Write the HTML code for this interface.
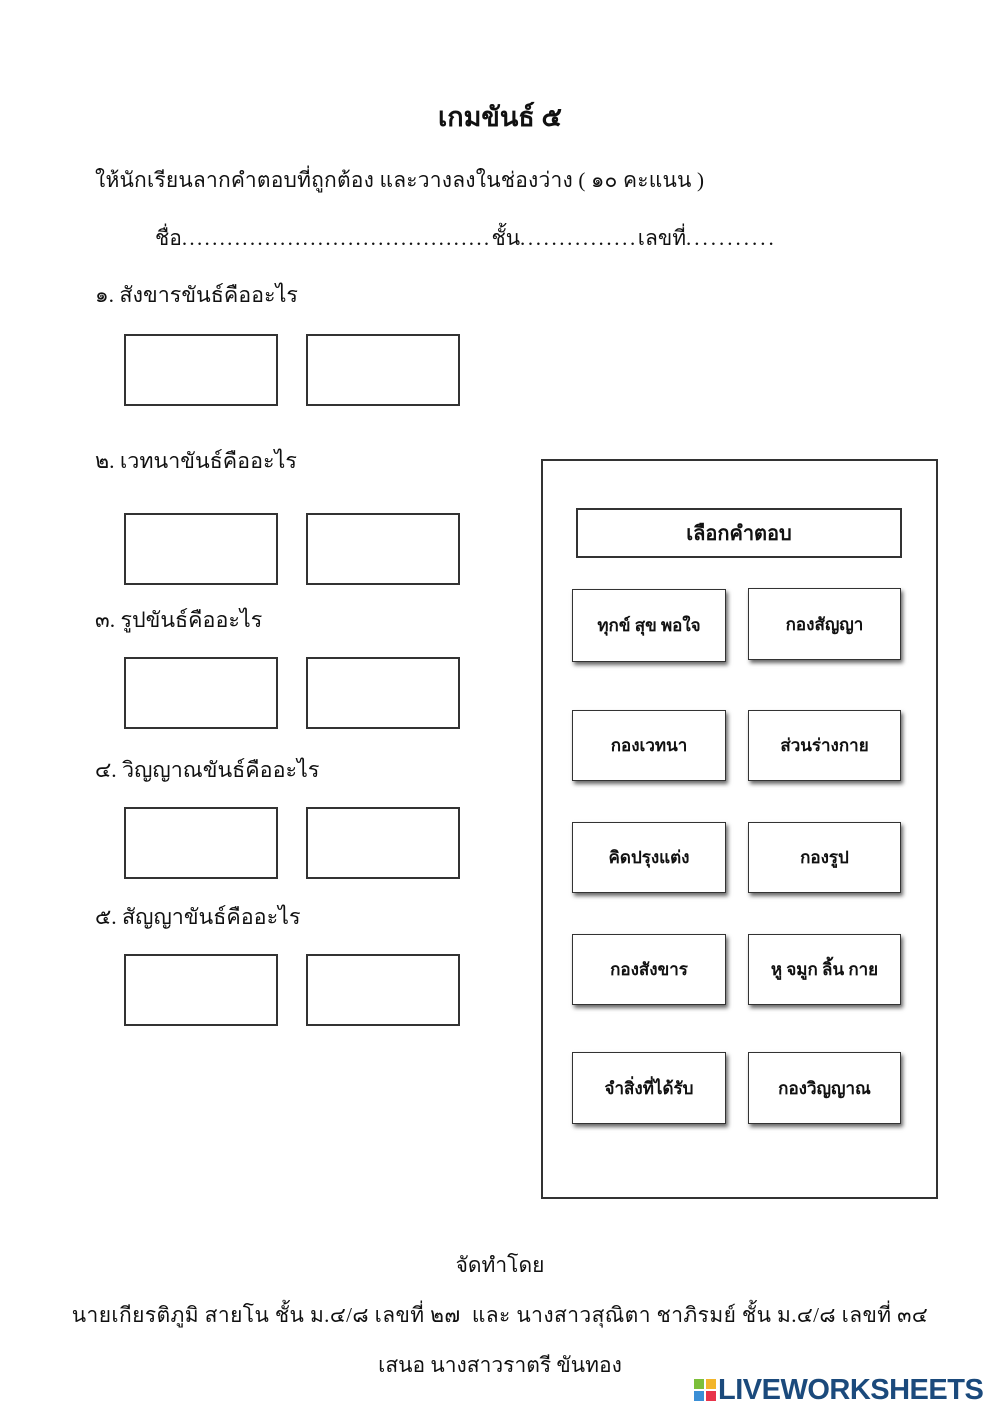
<!DOCTYPE html>
<html><head><meta charset="utf-8">
<style>
body{margin:0;width:1000px;height:1414px;background:#fff;position:relative;overflow:hidden;font-family:"Liberation Serif","DejaVu Sans","Noto Sans CJK SC",serif;color:#111}
.t{position:absolute;white-space:nowrap;font-size:21px;line-height:1}
.b{position:absolute;border:2px solid #333;box-sizing:border-box;background:#fff}
.c{position:absolute;border:1.5px solid #333;box-sizing:border-box;background:#fff;box-shadow:2px 3px 4px rgba(0,0,0,.6);display:flex;align-items:center;justify-content:center;font-weight:bold;font-size:17px}
</style></head><body>
<div class="t" style="left:0;width:1000px;text-align:center;top:104px;font-size:27px;font-weight:bold">เกมขันธ์ ๕</div>
<div class="t" style="left:95px;top:170px;letter-spacing:0.2px">ให้นักเรียนลากคำตอบที่ถูกต้อง และวางลงในช่องว่าง ( ๑๐ คะแนน )</div>
<div class="t" style="left:155px;top:228px">ชื่อ<span style="letter-spacing:2.3px">.........................................</span>ชั้น<span style="letter-spacing:2.6px">...............</span>เลขที่<span style="letter-spacing:3px">...........</span></div>
<div class="t" style="left:95px;top:285px;font-size:21.5px">๑. สังขารขันธ์คืออะไร</div>
<div class="t" style="left:95px;top:451px;font-size:21.5px">๒. เวทนาขันธ์คืออะไร</div>
<div class="t" style="left:95px;top:610px;font-size:21.5px">๓. รูปขันธ์คืออะไร</div>
<div class="t" style="left:95px;top:760px;font-size:21.5px">๔. วิญญาณขันธ์คืออะไร</div>
<div class="t" style="left:95px;top:907px;font-size:21.5px">๕. สัญญาขันธ์คืออะไร</div>

<div class="b" style="left:124px;top:334px;width:154px;height:72px"></div>
<div class="b" style="left:306px;top:334px;width:154px;height:72px"></div>
<div class="b" style="left:124px;top:513px;width:154px;height:72px"></div>
<div class="b" style="left:306px;top:513px;width:154px;height:72px"></div>
<div class="b" style="left:124px;top:657px;width:154px;height:72px"></div>
<div class="b" style="left:306px;top:657px;width:154px;height:72px"></div>
<div class="b" style="left:124px;top:807px;width:154px;height:72px"></div>
<div class="b" style="left:306px;top:807px;width:154px;height:72px"></div>
<div class="b" style="left:124px;top:954px;width:154px;height:72px"></div>
<div class="b" style="left:306px;top:954px;width:154px;height:72px"></div>

<div class="b" style="left:541px;top:459px;width:397px;height:740px"></div>
<div class="b" style="left:576px;top:508px;width:326px;height:50px;display:flex;align-items:center;justify-content:center;font-weight:bold;font-size:20px">เลือกคำตอบ</div>

<div class="c" style="left:572px;top:589px;width:154px;height:73px">ทุกข์ สุข พอใจ</div>
<div class="c" style="left:748px;top:588px;width:153px;height:72px">กองสัญญา</div>
<div class="c" style="left:572px;top:710px;width:154px;height:71px">กองเวทนา</div>
<div class="c" style="left:748px;top:710px;width:153px;height:71px">ส่วนร่างกาย</div>
<div class="c" style="left:572px;top:822px;width:154px;height:71px">คิดปรุงแต่ง</div>
<div class="c" style="left:748px;top:822px;width:153px;height:71px">กองรูป</div>
<div class="c" style="left:572px;top:934px;width:154px;height:71px">กองสังขาร</div>
<div class="c" style="left:748px;top:934px;width:153px;height:71px">หู จมูก ลิ้น กาย</div>
<div class="c" style="left:572px;top:1052px;width:154px;height:72px">จำสิ่งที่ได้รับ</div>
<div class="c" style="left:748px;top:1052px;width:153px;height:72px">กองวิญญาณ</div>

<div class="t" style="left:0;width:1000px;text-align:center;top:1255px">จัดทำโดย</div>
<div class="t" style="left:0;width:1000px;text-align:center;top:1305px;letter-spacing:0.4px">นายเกียรติภูมิ สายโน ชั้น ม.๔/๘ เลขที่ ๒๗ &nbsp;และ นางสาวสุณิตา ชาภิรมย์ ชั้น ม.๔/๘ เลขที่ ๓๔</div>
<div class="t" style="left:0;width:1000px;text-align:center;top:1355px">เสนอ นางสาวราตรี ขันทอง</div>

<div style="position:absolute;left:694px;top:1379px;width:22px;height:22px">
<div style="position:absolute;left:0;top:0;width:10px;height:10px;background:#7cbf3a"></div>
<div style="position:absolute;left:12px;top:0;width:10px;height:10px;background:#f2b52a"></div>
<div style="position:absolute;left:0;top:12px;width:10px;height:10px;background:#3b8fd6"></div>
<div style="position:absolute;left:12px;top:12px;width:10px;height:10px;background:#e8344a"></div>
</div>
<div class="t" style="left:718px;top:1376px;font-family:'Liberation Sans',sans-serif;font-weight:bold;font-size:29px;color:#1b4a7c;letter-spacing:-0.5px">LIVEWORKSHEETS</div>
</body></html>
